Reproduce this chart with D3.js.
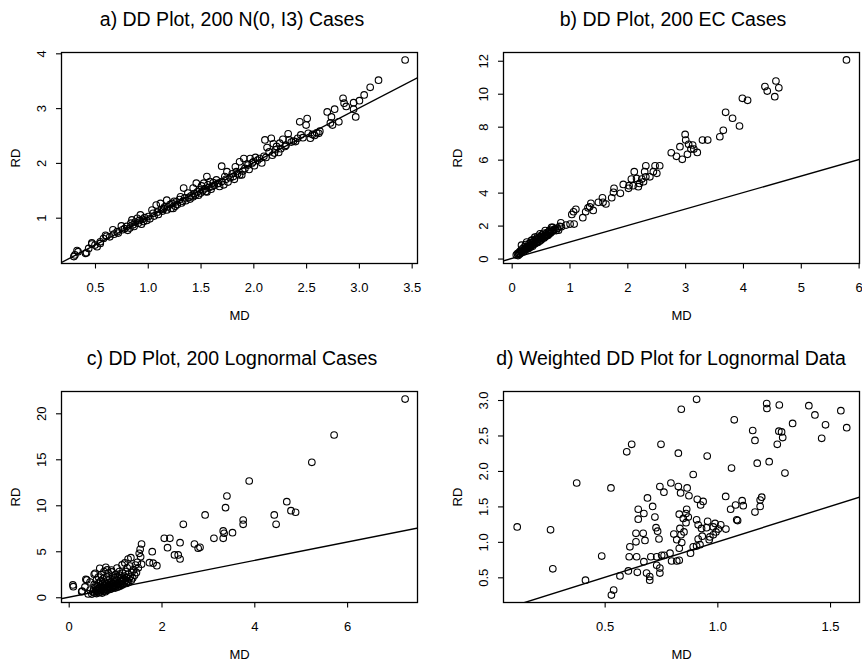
<!DOCTYPE html>
<html><head><meta charset="utf-8">
<script src="https://cdn.jsdelivr.net/npm/d3@7"></script>
<style>
body{margin:0;background:#fff}
svg{display:block}
text{font-family:"Liberation Sans", Arial, Helvetica, sans-serif; fill:#000}
</style>
</head><body>
<svg id="chart" width="862" height="665"></svg>
<script>
// ---------- titles / labels ----------
const titles = [
  "a) DD Plot, 200 N(0, I3) Cases",
  "b) DD Plot, 200 EC Cases",
  "c) DD Plot, 200 Lognormal Cases",
  "d) Weighted DD Plot for Lognormal Data"
];
const xLabel = "MD";
const yLabel = "RD";

// ---------- tick values ----------
const aXTicks = [0.5, 1.0, 1.5, 2.0, 2.5, 3.0, 3.5];
const aYTicks = [1, 2, 3, 4];
const bXTicks = [0, 1, 2, 3, 4, 5, 6];
const bYTicks = [0, 2, 4, 6, 8, 10, 12];
const cXTicks = [0, 2, 4, 6];
const cYTicks = [0, 5, 10, 15, 20];
const dXTicks = [0.5, 1.0, 1.5];
const dYTicks = [0.5, 1.0, 1.5, 2.0, 2.5, 3.0];

// ---------- axis ranges (data range + 4%) ----------
const aXDomain = [0.178, 3.56],  aYDomain = [0.164, 4.015];
const bXDomain = [-0.15, 6.024], bYDomain = [-0.3, 12.5];
const cXDomain = [-0.166, 7.528], cYDomain = [-0.57, 22.37];
const dXDomain = [0.049, 1.633], dYDomain = [0.145, 3.12];

// ---------- data: [MD, RD] ----------
const aPoints = [
[0.30,0.29],[0.31,0.32],[0.33,0.40],[0.34,0.38],[0.41,0.35],[0.42,0.36],[0.44,0.44],[0.47,0.54],[0.47,0.52],[0.50,0.50],
[0.52,0.47],[0.55,0.53],[0.55,0.56],[0.58,0.62],[0.60,0.68],[0.61,0.66],[0.64,0.65],[0.67,0.78],[0.68,0.70],[0.71,0.745],
[0.72,0.72],[0.75,0.85],[0.76,0.78],[0.78,0.80],[0.80,0.84],[0.81,0.77],[0.83,0.81],[0.84,0.90],[0.85,0.96],[0.86,0.87],
[0.87,0.84],[0.88,0.92],[0.90,0.99],[0.91,0.90],[0.92,0.95],[0.93,1.05],[0.94,0.88],[0.95,0.97],[0.96,0.93],[0.97,1.00],
[0.99,0.95],[1.005,1.02],[1.02,0.98],[1.04,1.14],[1.05,1.08],[1.06,1.03],[1.08,1.23],[1.09,1.10],[1.10,1.06],[1.12,1.26],
[1.13,1.15],[1.14,1.12],[1.15,1.17],[1.16,1.20],[1.18,1.32],[1.18,1.14],[1.19,1.20],[1.21,1.24],[1.22,1.17],[1.23,1.26],
[1.24,1.17],[1.25,1.30],[1.26,1.21],[1.27,1.29],[1.28,1.24],[1.30,1.33],[1.31,1.38],[1.32,1.27],[1.33,1.30],[1.34,1.54],
[1.35,1.36],[1.36,1.31],[1.38,1.45],[1.39,1.37],[1.40,1.34],[1.41,1.40],[1.43,1.38],[1.43,1.54],[1.44,1.44],[1.45,1.41],
[1.46,1.63],[1.47,1.47],[1.48,1.41],[1.49,1.51],[1.50,1.45],[1.51,1.58],[1.52,1.49],[1.53,1.63],[1.54,1.53],[1.55,1.48],
[1.56,1.75],[1.56,1.47],[1.57,1.60],[1.58,1.55],[1.59,1.66],[1.60,1.52],[1.61,1.57],[1.62,1.64],[1.63,1.59],[1.65,1.69],
[1.66,1.62],[1.67,1.63],[1.68,1.57],[1.70,1.94],[1.70,1.66],[1.72,1.60],[1.73,1.75],[1.74,1.70],[1.75,1.84],[1.76,1.65],
[1.78,1.73],[1.80,1.80],[1.81,1.75],[1.82,1.70],[1.83,1.93],[1.84,1.84],[1.85,1.80],[1.87,2.02],[1.87,1.78],[1.89,1.78],
[1.90,1.85],[1.91,2.08],[1.92,1.90],[1.94,1.98],[1.95,1.96],[1.96,1.88],[1.97,2.08],[1.99,2.00],[2.00,2.02],[2.01,1.95],
[2.02,2.10],[2.04,2.05],[2.06,2.08],[2.08,2.00],[2.10,2.12],[2.11,2.42],[2.12,2.10],[2.13,2.28],[2.15,2.20],[2.17,2.45],
[2.18,2.14],[2.19,2.35],[2.20,2.18],[2.21,2.24],[2.22,2.30],[2.24,2.19],[2.25,2.36],[2.26,2.26],[2.28,2.43],[2.30,2.30],
[2.31,2.32],[2.33,2.53],[2.34,2.42],[2.36,2.38],[2.38,2.40],[2.40,2.39],[2.42,2.45],[2.44,2.75],[2.45,2.51],[2.47,2.46],
[2.50,2.69],[2.51,2.81],[2.52,2.54],[2.54,2.45],[2.56,2.52],[2.58,2.50],[2.60,2.55],[2.62,2.54],[2.63,2.58],[2.70,2.93],
[2.73,2.73],[2.74,2.84],[2.75,2.69],[2.77,2.98],[2.81,2.75],[2.85,3.18],[2.86,3.09],[2.88,3.03],[2.95,3.10],[2.95,2.98],
[2.97,2.84],[3.005,3.135],[3.05,3.24],[3.107,3.38],[3.186,3.51],[3.438,3.878]
];

const bPoints = [
[0.08,0.22],[0.10,0.30],[0.11,0.18],[0.12,0.35],[0.13,0.26],[0.14,0.42],[0.15,0.30],[0.16,0.50],[0.17,0.38],[0.17,0.81],
[0.18,0.45],[0.19,0.60],[0.20,0.40],[0.21,0.52],[0.22,0.70],[0.22,0.46],[0.23,0.58],[0.24,0.85],[0.25,0.55],[0.25,0.66],
[0.26,1.00],[0.27,0.62],[0.28,0.75],[0.29,0.61],[0.30,0.90],[0.30,0.70],[0.31,0.80],[0.32,0.68],[0.33,0.95],[0.33,0.76],
[0.34,1.10],[0.35,0.82],[0.36,0.74],[0.36,0.98],[0.37,1.15],[0.38,0.86],[0.39,1.02],[0.40,1.30],[0.40,0.90],[0.41,1.12],
[0.42,0.95],[0.43,1.20],[0.44,1.05],[0.45,1.35],[0.45,0.98],[0.46,1.15],[0.47,1.25],[0.48,1.05],[0.49,1.50],[0.49,1.18],
[0.50,1.32],[0.51,1.12],[0.52,1.42],[0.53,1.22],[0.54,1.30],[0.55,1.53],[0.56,1.25],[0.57,1.40],[0.58,1.70],[0.58,1.32],
[0.59,1.48],[0.60,1.38],[0.61,1.58],[0.62,1.43],[0.63,1.41],[0.64,1.62],[0.65,1.50],[0.66,1.72],[0.67,1.55],[0.68,1.60],
[0.69,1.90],[0.70,1.65],[0.71,1.89],[0.72,1.69],[0.73,1.75],[0.75,1.80],[0.77,1.70],[0.79,1.83],[0.81,1.72],[0.83,1.95],
[0.85,2.17],[0.86,1.93],[0.94,2.03],[1.01,2.09],[1.08,2.09],[1.04,2.68],[1.07,2.84],[1.11,2.99],[1.23,2.48],[1.28,2.84],
[1.32,3.08],[1.35,3.14],[1.37,3.35],[1.41,2.92],[1.50,3.41],[1.58,3.41],[1.63,3.31],[1.57,3.69],[1.73,3.69],[1.76,4.02],
[1.77,4.26],[1.88,3.96],[1.93,4.50],[2.02,4.26],[2.03,4.42],[2.10,4.42],[2.19,4.36],[2.07,4.82],[2.16,4.86],[2.12,5.27],
[2.21,4.56],[2.28,4.66],[2.25,4.82],[2.32,4.96],[2.30,5.27],[2.39,4.96],[2.45,5.27],[2.32,5.63],[2.51,5.17],[2.48,5.63],
[2.56,5.63],[2.76,6.42],[2.85,6.20],[2.95,6.02],[3.04,6.32],[2.91,6.79],[3.00,7.53],[3.01,7.19],[3.06,6.93],[3.13,6.89],
[3.10,6.64],[3.15,6.64],[3.21,6.44],[3.30,7.19],[3.39,7.19],[3.60,7.39],[3.66,7.78],[3.70,8.87],[3.82,8.51],[3.94,8.04],
[3.99,9.72],[4.08,9.60],[4.38,10.43],[4.42,10.16],[4.57,10.77],[4.62,10.36],[4.55,9.82],[5.79,12.05]
];

const cPoints = [
[0.09,1.34],[0.10,1.15],[0.28,0.61],[0.29,0.68],[0.35,1.12],[0.37,1.96],[0.39,1.88],[0.42,0.36],[0.46,0.79],[0.46,1.66],
[0.50,0.35],[0.52,0.60],[0.54,0.90],[0.55,1.40],[0.55,2.50],[0.56,0.45],[0.57,2.61],[0.58,0.75],[0.59,1.10],[0.60,0.40],
[0.60,1.90],[0.61,0.65],[0.62,1.25],[0.63,0.95],[0.64,0.50],[0.64,2.20],[0.65,1.55],[0.66,0.80],[0.67,3.15],[0.67,1.05],
[0.68,0.55],[0.69,1.75],[0.70,0.70],[0.70,2.45],[0.71,1.20],[0.72,0.90],[0.72,0.45],[0.73,1.45],[0.74,2.00],[0.75,0.65],
[0.75,1.00],[0.76,2.80],[0.77,1.30],[0.77,0.80],[0.78,1.65],[0.79,0.60],[0.80,3.26],[0.80,1.10],[0.81,0.90],[0.82,2.20],
[0.82,1.45],[0.83,0.75],[0.83,2.97],[0.84,1.85],[0.85,1.20],[0.85,0.95],[0.86,2.60],[0.87,1.55],[0.88,0.85],[0.88,1.05],
[0.89,2.00],[0.90,1.35],[0.91,0.90],[0.91,1.70],[0.92,2.95],[0.93,1.15],[0.93,2.75],[0.94,1.00],[0.95,2.30],[0.95,1.50],
[0.96,1.85],[0.97,1.10],[0.98,1.30],[0.99,2.10],[1.00,1.00],[1.00,1.65],[1.01,2.50],[1.02,1.20],[1.03,1.45],[1.04,3.18],
[1.04,1.90],[1.05,1.10],[1.06,2.25],[1.07,1.35],[1.08,1.60],[1.09,2.80],[1.10,2.40],[1.10,1.20],[1.11,1.85],[1.12,1.45],
[1.13,2.10],[1.14,1.30],[1.15,3.51],[1.15,1.70],[1.16,2.60],[1.17,1.40],[1.18,2.00],[1.19,1.55],[1.20,2.30],[1.21,3.73],
[1.22,1.80],[1.23,2.80],[1.24,1.50],[1.25,2.10],[1.26,3.20],[1.27,1.75],[1.28,2.50],[1.29,1.60],[1.30,2.00],[1.32,3.40],
[1.33,2.25],[1.35,1.85],[1.36,2.70],[1.38,2.10],[1.40,3.00],[1.42,2.40],[1.44,3.50],[1.46,2.70],[1.48,3.80],[1.50,3.20],
[1.55,4.40],[1.57,3.60],[1.28,4.16],[1.34,4.30],[1.52,4.78],[1.54,5.22],[1.57,5.79],[1.74,3.76],[1.82,3.70],[1.90,3.43],
[1.80,4.96],[2.06,6.41],[2.18,6.41],[2.13,5.39],[2.28,4.60],[2.36,4.60],[2.40,4.16],[2.40,5.93],[2.47,7.93],[2.71,5.79],
[2.79,5.33],[2.83,5.43],[2.94,8.95],[3.13,6.41],[3.33,6.41],[3.33,7.21],[3.35,6.96],[3.53,7.02],[3.38,9.74],[3.41,11.01],
[3.76,8.40],[3.76,7.93],[3.89,12.64],[4.43,8.95],[4.47,7.93],[4.70,10.39],[4.79,9.41],[4.89,9.24],[5.24,14.67],[5.72,17.64],
[7.25,21.55]
];

const dPoints = [
[0.112,1.21],[0.26,1.17],[0.27,0.62],[0.376,1.83],[0.415,0.46],[0.487,0.80],[0.528,1.76],[0.53,0.25],[0.54,0.32],[0.568,0.52],
[0.598,2.27],[0.605,0.59],[0.609,0.79],[0.612,0.93],[0.62,2.375],[0.639,1.12],[0.639,1.00],[0.642,0.79],[0.645,0.57],[0.649,1.46],
[0.649,1.32],[0.671,1.12],[0.674,1.40],[0.674,0.72],[0.679,1.02],[0.686,0.56],[0.69,1.62],[0.70,0.51],[0.70,0.46],[0.705,0.79],
[0.713,1.50],[0.723,1.35],[0.728,1.20],[0.731,0.79],[0.731,0.67],[0.735,1.15],[0.741,1.04],[0.745,0.63],[0.745,0.56],[0.745,1.78],
[0.75,2.375],[0.753,0.81],[0.763,1.70],[0.764,0.81],[0.79,0.84],[0.794,1.83],[0.797,0.73],[0.807,1.11],[0.82,0.73],[0.82,1.03],
[0.827,2.25],[0.827,1.78],[0.831,0.74],[0.831,0.91],[0.831,1.39],[0.834,1.19],[0.837,1.69],[0.839,1.10],[0.84,2.87],[0.842,0.99],
[0.849,1.33],[0.852,1.14],[0.861,1.40],[0.861,1.27],[0.864,1.46],[0.866,1.76],[0.871,1.35],[0.874,1.65],[0.881,0.84],[0.893,0.93],
[0.893,1.95],[0.908,3.01],[0.908,0.94],[0.908,1.31],[0.911,1.60],[0.915,1.24],[0.915,1.04],[0.923,0.96],[0.926,1.52],[0.93,1.19],
[0.933,1.08],[0.937,1.57],[0.952,1.20],[0.955,2.21],[0.957,1.29],[0.964,1.03],[0.967,1.07],[0.982,1.10],[0.982,1.21],[0.99,1.26],
[0.994,1.14],[1.004,1.18],[1.015,1.24],[1.037,1.64],[1.038,1.18],[1.059,1.46],[1.063,2.04],[1.075,2.72],[1.081,1.52],[1.086,1.31],
[1.09,1.30],[1.11,1.58],[1.115,1.51],[1.157,2.57],[1.167,2.43],[1.167,1.42],[1.177,2.11],[1.19,1.50],[1.19,1.59],[1.197,1.63],
[1.219,2.95],[1.22,2.88],[1.23,2.13],[1.266,2.375],[1.273,2.56],[1.275,2.93],[1.285,2.55],[1.29,2.47],[1.30,1.97],[1.334,2.67],
[1.406,2.92],[1.433,2.79],[1.463,2.46],[1.48,2.65],[1.548,2.85],[1.574,2.61]
];

const panels = [
  {title: titles[0], pts: aPoints, xDom: aXDomain, yDom: aYDomain, xTicks: aXTicks, yTicks: aYTicks, xf: d3.format(".1f"), yf: d3.format("d"), left: 61, top: 52.5, titleX: 232},
  {title: titles[1], pts: bPoints, xDom: bXDomain, yDom: bYDomain, xTicks: bXTicks, yTicks: bYTicks, xf: d3.format("d"), yf: d3.format("d"), left: 503, top: 52.5, titleX: 673},
  {title: titles[2], pts: cPoints, xDom: cXDomain, yDom: cYDomain, xTicks: cXTicks, yTicks: cYTicks, xf: d3.format("d"), yf: d3.format("d"), left: 61, top: 391.5, titleX: 232},
  {title: titles[3], pts: dPoints, xDom: dXDomain, yDom: dYDomain, xTicks: dXTicks, yTicks: dYTicks, xf: d3.format(".1f"), yf: d3.format(".1f"), left: 503, top: 391.5, titleX: 671}
];

const W = 357, H = 211;
const svg = d3.select("#chart");
svg.append("rect").attr("width", 862).attr("height", 665).attr("fill", "#fff");

panels.forEach((p, i) => {
  const x = d3.scaleLinear().domain(p.xDom).range([p.left, p.left + W]);
  const y = d3.scaleLinear().domain(p.yDom).range([p.top + H, p.top]);
  const g = svg.append("g");

  const clipId = "clip" + i;
  svg.append("clipPath").attr("id", clipId).append("rect")
    .attr("x", p.left).attr("y", p.top).attr("width", W).attr("height", H);

  // reference line RD = MD
  const lo = Math.min(p.xDom[0], p.yDom[0]) - 1, hi = Math.max(p.xDom[1], p.yDom[1]) + 1;
  g.append("line").attr("clip-path", `url(#${clipId})`)
    .attr("x1", x(lo)).attr("y1", y(lo)).attr("x2", x(hi)).attr("y2", y(hi))
    .attr("stroke", "#000").attr("stroke-width", 1.4);

  // points
  g.append("g").selectAll("circle").data(p.pts).join("circle")
    .attr("cx", d => x(d[0])).attr("cy", d => y(d[1])).attr("r", 3.3)
    .attr("fill", "none").attr("stroke", "#000").attr("stroke-width", 1.1);

  // box
  g.append("rect").attr("x", p.left + 0.5).attr("y", p.top).attr("width", W - 1).attr("height", H)
    .attr("fill", "none").attr("stroke", "#000").attr("stroke-width", 1.3);

  // x axis
  const xa = g.append("g").attr("transform", `translate(0,${p.top + H})`)
    .call(d3.axisBottom(x).tickValues(p.xTicks).tickFormat(p.xf).tickSize(5).tickSizeOuter(0));
  xa.select(".domain").remove();
  xa.selectAll(".tick line").attr("stroke", "#000").attr("stroke-width", 1.1);
  xa.selectAll(".tick text").attr("y", 28.7).attr("dy", null)
    .attr("font-size", 13).attr("font-family", "Liberation Sans, Arial, sans-serif").attr("fill", "#000");

  // y axis
  const ya = g.append("g").attr("transform", `translate(${p.left},0)`)
    .call(d3.axisLeft(y).tickValues(p.yTicks).tickFormat(p.yf).tickSize(5).tickSizeOuter(0));
  ya.select(".domain").remove();
  ya.selectAll(".tick line").attr("stroke", "#000").attr("stroke-width", 1.1);
  ya.selectAll(".tick text").attr("x", null).attr("dy", "0.36em")
    .attr("text-anchor", "middle").attr("transform", "translate(-19.5,0) rotate(-90)")
    .attr("font-size", 13).attr("font-family", "Liberation Sans, Arial, sans-serif").attr("fill", "#000");

  // axis titles
  g.append("text").attr("x", p.left + W / 2).attr("y", p.top + H + 56.5)
    .attr("text-anchor", "middle").attr("font-size", 13).text(xLabel);
  g.append("text").attr("transform", `translate(${p.left - 46},${p.top + H / 2}) rotate(-90)`)
    .attr("dy", "0.36em").attr("text-anchor", "middle").attr("font-size", 13).text(yLabel);

  // main title
  g.append("text").attr("x", p.titleX).attr("y", p.top - 27)
    .attr("text-anchor", "middle").attr("font-size", 19.5).text(p.title);
});
</script>
</body></html>
